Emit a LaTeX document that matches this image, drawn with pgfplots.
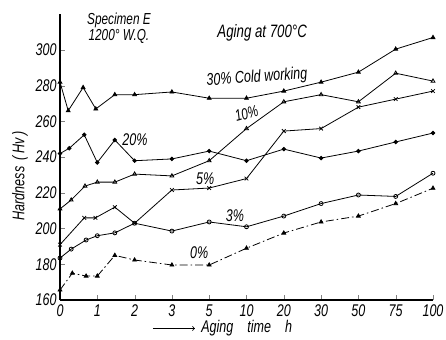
\documentclass[border=0pt]{standalone}
\usepackage{fontspec}
\setmainfont{Liberation Sans}[FakeStretch=0.74]
\usepackage{pgfplots}
\pgfplotsset{compat=1.18}
\begin{document}
\begin{tikzpicture}
\useasboundingbox (0,0) rectangle (446bp,340bp);
\begin{axis}[
  at={(60bp,40bp)}, anchor=south west,
  scale only axis, width=373bp, height=285.7bp,
  xmin=0, xmax=10, ymin=160, ymax=320,
  axis lines=left, axis line style={-, line width=1.1pt},
  tick align=inside, major tick length=5pt,
  xtick={0,1,2,3,4,5,6,7,8,9,10},
  xticklabels={0,1,2,3,5,10,20,30,50,75,100},
  ytick={160,180,200,220,240,260,280,300},
  /pgf/number format/assume math mode=true,
  tick label style={font=\itshape\fontsize{17}{17}\selectfont},
  xticklabel style={yshift=-1bp},
  yticklabel style={xshift=0bp},
  xlabel={\tikz[baseline=-0.5ex]\draw[->, line width=0.8pt] (0,0)--(42bp,0);\hspace{6bp}\itshape Aging\hspace{14bp}time\hspace{14bp}h},
  ylabel={\itshape Hardness\hspace{6bp}(\,Hv\,)},
  every axis x label/.style={at={(axis description cs:0.435,-0.1)}, anchor=center, font=\fontsize{17}{17}\selectfont},
  every axis y label/.style={at={(axis description cs:-0.107,0.435)}, anchor=center, rotate=90, font=\fontsize{17}{17}\selectfont},
  clip=false,
  every axis plot/.append style={black, line width=0.8pt, mark size=2.2pt},
]
% 30% cold working
\addplot[mark=triangle*] coordinates {
(0,282) (0.22,266) (0.62,279) (0.96,267) (1.47,275) (2,275) (3,276.5) (4,273) (5,273) (6,277) (7,282) (8,287.6) (9,300.5) (10,307)};
% 10%
\addplot[mark=triangle, mark options={fill=white}] coordinates {
(0,211) (0.3,216) (0.67,223.8) (1,226) (1.47,226) (2,230.5) (3,229.5) (4,238) (5,256) (6,271) (7,275) (8,271) (9,287) (10,282.6)};
% 20%
\addplot[mark=*, mark size=1.8pt] coordinates {
(0,242) (0.25,245) (0.65,252.5) (1,237) (1.47,249.6) (2,238) (3,239) (4,243.4) (5,238) (6,244.5) (7,239.5) (8,243.4) (9,248.5) (10,253.5)};
% 5%
\addplot[mark=x, mark size=2.6pt] coordinates {
(0,191) (0.65,206) (0.95,206) (1.47,212) (2,203) (3,221.6) (4,222.7) (5,228) (6,254.6) (7,256) (8,268) (9,272.5) (10,277)};
% 3%
\addplot[mark=o, mark size=2pt, mark options={fill=white}] coordinates {
(0,183.5) (0.3,188.5) (0.7,193.6) (1,196) (1.47,197.6) (2,203) (3,198.6) (4,203.7) (5,201) (6,207) (7,214) (8,218.8) (9,218) (10,231)};
% 0%
\addplot[mark=triangle*, dash pattern=on 8pt off 3pt on 1.5pt off 3pt, mark options={solid}] coordinates {
(0,165.6) (0.33,175) (0.7,173.4) (1,173.4) (1.47,185) (2,182.4) (3,179.6) (4,179.6) (5,189) (6,197.5) (7,203.7) (8,207) (9,214) (10,222.6)};
\node[font=\itshape\fontsize{16}{14}\selectfont, align=center, inner sep=0pt] at (axis cs:1.58,312.2) {Specimen E\\1200° W.Q.};
\node[font=\itshape\fontsize{18}{18}\selectfont] at (axis cs:5.42,309.6) {Aging at 700°C};
\node[font=\itshape\fontsize{17}{17}\selectfont, rotate=4] at (axis cs:5.28,284.5) {30\% Cold working};
\node[font=\itshape\fontsize{16}{16}\selectfont, rotate=15, inner sep=0pt] at (axis cs:5.0,264.5) {10\%};
\node[font=\itshape\fontsize{17}{17}\selectfont] at (axis cs:2.01,249.6) {20\%};
\node[font=\itshape\fontsize{17}{17}\selectfont] at (axis cs:3.89,227.7) {5\%};
\node[font=\itshape\fontsize{17}{17}\selectfont] at (axis cs:4.69,207.3) {3\%};
\node[font=\itshape\fontsize{17}{17}\selectfont] at (axis cs:3.73,186.5) {0\%};
\end{axis}
\end{tikzpicture}
\end{document}
